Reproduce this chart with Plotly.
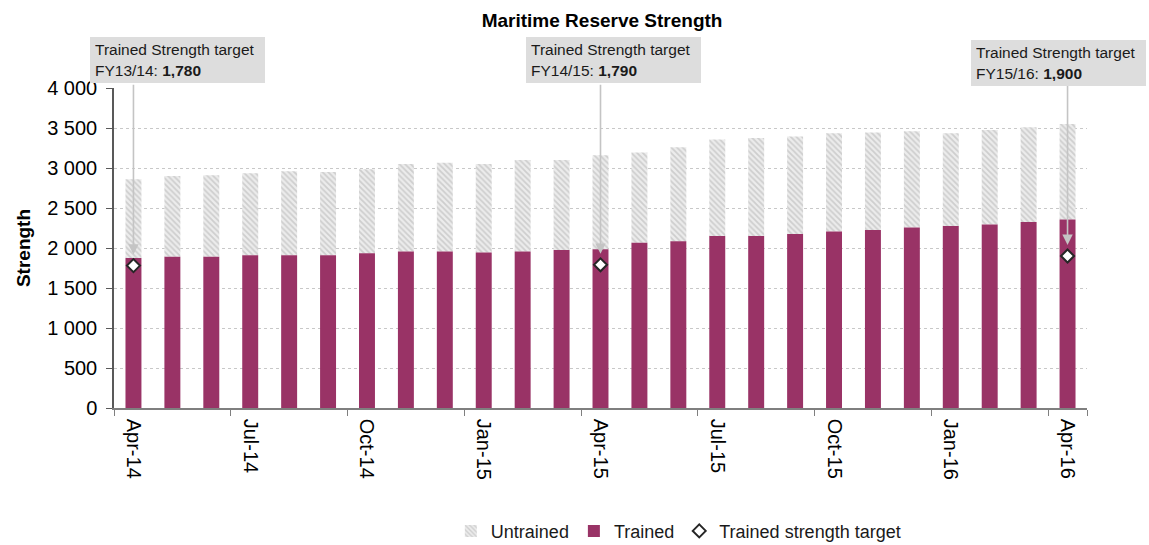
import plotly.graph_objects as go

# Monthly strength, April 2014 to April 2016
months = ["Apr-14", "May-14", "Jun-14", "Jul-14", "Aug-14", "Sep-14", "Oct-14",
          "Nov-14", "Dec-14", "Jan-15", "Feb-15", "Mar-15", "Apr-15", "May-15",
          "Jun-15", "Jul-15", "Aug-15", "Sep-15", "Oct-15", "Nov-15", "Dec-15",
          "Jan-16", "Feb-16", "Mar-16", "Apr-16"]
trained = [1875, 1890, 1890, 1910, 1910, 1910, 1935, 1955, 1955, 1945, 1955, 1975,
           1985, 2065, 2085, 2150, 2150, 2175, 2205, 2225, 2255, 2275, 2295, 2325, 2355]
untrained = [985, 1010, 1020, 1025, 1050, 1040, 1050, 1095, 1110, 1105, 1145, 1125,
             1175, 1130, 1175, 1205, 1225, 1220, 1230, 1220, 1205, 1160, 1180, 1185, 1195]

# Trained strength targets per financial year
target_months = ["Apr-14", "Apr-15", "Apr-16"]
target_values = [1780, 1790, 1900]
target_years = ["FY13/14", "FY14/15", "FY15/16"]

tick_months = months[::3]

PLUM = "#993366"
FONT = "Liberation Sans, Arial, sans-serif"

fig = go.Figure()

fig.add_trace(go.Bar(
    x=months, y=untrained, base=trained, name="Untrained",
    marker=dict(color="#ffffff", line=dict(width=0),
                pattern=dict(shape="\\", fgcolor="#b0b0b0", bgcolor="#ececec",
                             size=4, solidity=0.45)),
    legendrank=1,
))
fig.add_trace(go.Bar(
    x=months, y=trained, name="Trained",
    marker=dict(color=PLUM, line=dict(width=0)),
    legendrank=2,
))
fig.add_trace(go.Scatter(
    x=target_months, y=target_values, mode="markers", name="Trained strength target",
    marker=dict(symbol="diamond", size=10, color="#ffffff",
                line=dict(color="#262626", width=2)),
    legendrank=3,
))

# Callout boxes (paper coordinates) with arrows pointing at each target marker
box_left = [-0.0247, 0.4234, 0.8808]
box_top = [1.159, 1.159, 1.15]
arrow_tail = [4060, 4060, 4050]
for m, v, fy, bx, by, tail in zip(target_months, target_values, target_years,
                                  box_left, box_top, arrow_tail):
    fig.add_annotation(
        x=m, y=v, xref="x", yref="y", ax=m, ay=tail, axref="x", ayref="y",
        text="", showarrow=True, arrowhead=2, arrowsize=1.3, arrowwidth=1.6,
        arrowcolor="#c4c4c4", standoff=11,
    )
    fig.add_annotation(
        x=bx, y=by, xref="paper", yref="paper", xanchor="left", yanchor="top",
        text=f"Trained Strength target<br>{fy}: <b>{v:,}</b>",
        showarrow=False, align="left", width=165, height=36,
        bgcolor="#dddddd", bordercolor="#dddddd", borderwidth=1, borderpad=4,
        font=dict(family=FONT, size=15.5, color="#1a1a1a"),
    )

fig.update_layout(
    width=1149, height=545,
    margin=dict(l=114, r=62, t=88, b=137, autoexpand=False),
    paper_bgcolor="#ffffff", plot_bgcolor="#ffffff",
    barmode="overlay", bargap=0.59,
    separators=". ",
    font=dict(family=FONT, color="#1a1a1a"),
    title=dict(text="<b>Maritime Reserve Strength</b>", x=0.524, xanchor="center",
               y=0.963, yanchor="middle", font=dict(size=19, family=FONT, color="#000000")),
    showlegend=True,
    legend=dict(orientation="h", x=0.58, xanchor="center", y=-0.385, yanchor="middle",
                font=dict(size=18, family=FONT, color="#1a1a1a"),
                traceorder="normal", itemwidth=30),
    xaxis=dict(type="category", tickmode="array", tickvals=tick_months,
               ticktext=tick_months, tickson="boundaries", tickangle=90,
               ticks="outside", ticklen=6, tickcolor="#7f7f7f",
               showline=True, linecolor="#7f7f7f", linewidth=1.5,
               showgrid=False, range=[-0.5, 24.5], automargin=False,
               ticklabelstandoff=5,
               tickfont=dict(size=20, family=FONT, color="#000000")),
    yaxis=dict(range=[0, 4000], tickvals=[0, 500, 1000, 1500, 2000, 2500, 3000, 3500, 4000],
               tickformat=",d", ticks="outside", ticklen=6, tickcolor="#595959",
               showline=True, linecolor="#595959", linewidth=1.5,
               showgrid=True, gridcolor="#c8c8c8", griddash="dot", gridwidth=1,
               zeroline=False, automargin=False, ticklabelstandoff=5,
               tickfont=dict(size=20, family=FONT, color="#000000"),
               title=dict(text="<b>Strength</b>", standoff=12,
                          font=dict(size=19, family=FONT, color="#000000"))),
)

fig.write_html("out.html")
